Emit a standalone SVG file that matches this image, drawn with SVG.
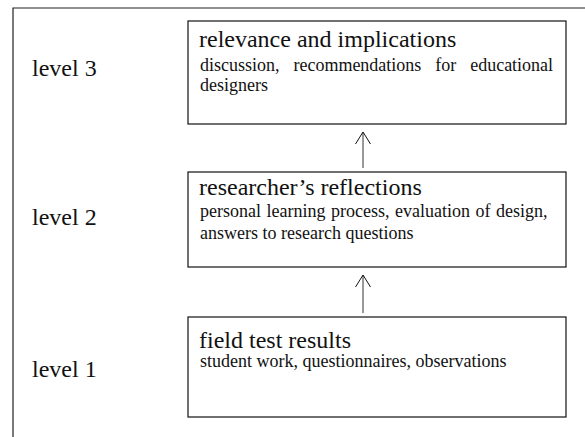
<svg xmlns="http://www.w3.org/2000/svg" width="585" height="437" viewBox="0 0 585 437">
<style>
.frame{fill:none;stroke:#222;stroke-width:1.2}
.box{fill:#fff;stroke:#111;stroke-width:1.2}
.t{font-family:"Liberation Serif","Times New Roman",serif;fill:#111}
.title{font-size:24px}
.sub{font-size:18px}
.lvl{font-size:24px}
.conn{stroke:#555;stroke-width:1.2;fill:none}
</style>
<defs>
<marker id="open" viewBox="0 0 14 16" refX="13" refY="8" markerWidth="14" markerHeight="16" markerUnits="userSpaceOnUse" orient="auto">
<path d="M1,0.5 L13,8 L1,15.5" fill="none" stroke="#111" stroke-width="1"/>
</marker>
</defs>
<rect width="585" height="437" fill="#fff"/>
<path class="frame" d="M13,437 V8 H585"/>
<g id="labels">
<text class="t lvl" x="32" y="76">level 3</text>
<text class="t lvl" x="32" y="225">level 2</text>
<text class="t lvl" x="32" y="377">level 1</text>
</g>
<g id="node-level3">
<rect class="box" x="188" y="21" width="378" height="103"/>
<text class="t title" x="199" y="47">relevance and implications</text>
<text class="t sub" x="200" y="71" word-spacing="9.4">discussion, recommendations for educational</text>
<text class="t sub" x="200" y="91">designers</text>
</g>
<g id="node-level2">
<rect class="box" x="188" y="172" width="378" height="95"/>
<text class="t title" x="199" y="195">researcher’s reflections</text>
<text class="t sub" x="200" y="217" word-spacing="1">personal learning process, evaluation of design,</text>
<text class="t sub" x="200" y="239">answers to research questions</text>
</g>
<g id="node-level1">
<rect class="box" x="188" y="317" width="378" height="100"/>
<text class="t title" x="199" y="348">field test results</text>
<text class="t sub" x="200" y="367">student work, questionnaires, observations</text>
</g>
<g id="connectors">
<line class="conn" x1="363" y1="168" x2="363" y2="132" marker-end="url(#open)"/>
<line class="conn" x1="363" y1="313" x2="363" y2="275" marker-end="url(#open)"/>
</g>
</svg>
